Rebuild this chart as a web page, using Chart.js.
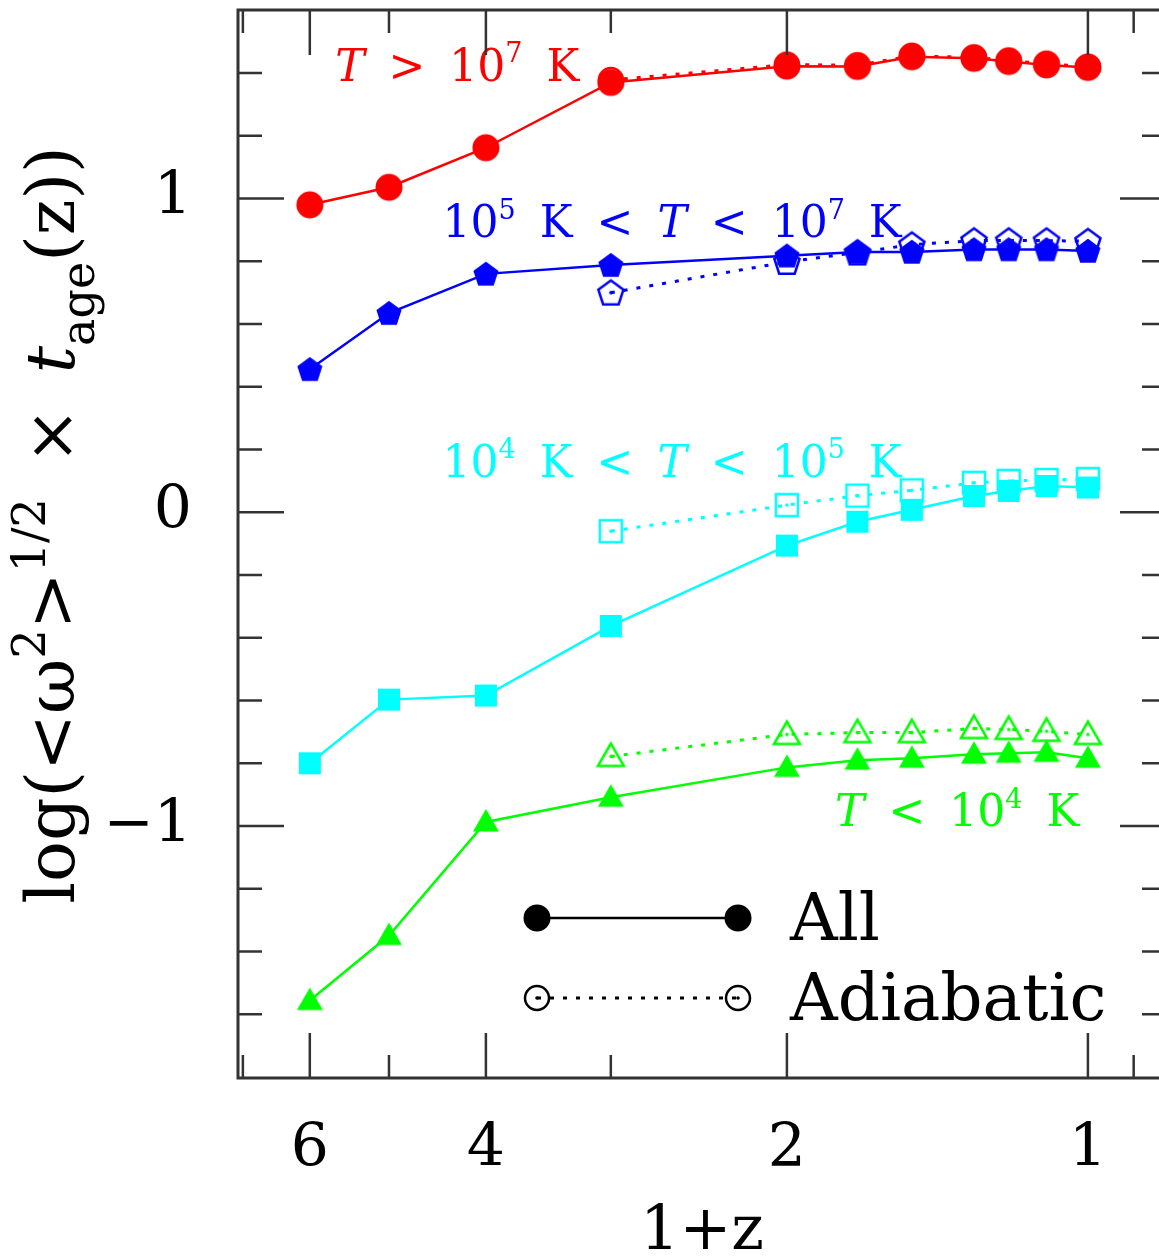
<!DOCTYPE html>
<html>
<head>
<meta charset="utf-8">
<script src="https://cdn.jsdelivr.net/npm/chart.js@4.4.1/dist/chart.umd.min.js"></script>
<style>
  html, body { margin: 0; padding: 0; overflow: hidden; background: #fff; }
  #wrap { position: relative; width: 1159px; height: 1256px; }
</style>
</head>
<body>
<div id="wrap"><canvas id="chart"></canvas></div>
<script>
// 1+z values of the outputs
const zAll = [6, 5, 4, 3, 2, 1.7, 1.5, 1.3, 1.2, 1.1, 1.0];
const zAdi = [3, 2, 1.7, 1.5, 1.3, 1.2, 1.1, 1.0];

// log(<w^2>^1/2 x t_age)
const hotAll  = [0.980, 1.036, 1.162, 1.370, 1.422, 1.421, 1.452, 1.447, 1.437, 1.426, 1.418];
const hotAdi  = [1.378, 1.427, 1.425, 1.455, 1.450, 1.440, 1.430, 1.420];
const whimAll = [0.456, 0.635, 0.760, 0.788, 0.818, 0.830, 0.830, 0.838, 0.838, 0.838, 0.833];
const whimAdi = [0.700, 0.798, 0.828, 0.853, 0.866, 0.866, 0.866, 0.864];
const warmAll = [-0.800, -0.597, -0.584, -0.362, -0.106, -0.030, 0.008, 0.052, 0.068, 0.084, 0.079];
const warmAdi = [-0.060, 0.023, 0.053, 0.070, 0.094, 0.100, 0.103, 0.106];
const coldAll = [-1.556, -1.349, -0.987, -0.908, -0.813, -0.790, -0.784, -0.771, -0.768, -0.765, -0.784];
const coldAdi = [-0.778, -0.708, -0.702, -0.702, -0.689, -0.692, -0.698, -0.708];

const xLabelTicks = [6, 4, 2, 1];
const xMinorTicks = [7, 5, 3, 0.9];
const yLabelTicks = [-1, 0, 1];

const FONT = '"DejaVu Serif", "Liberation Serif", serif';
const RED = '#ff0000', BLUE = '#0000ff', CYAN = '#00ffff', GREEN = '#00ff00';

// marker sprites (chart.js has no pentagon, so all are drawn the same way)
const marker = (shape, color, filled) => {
  const s = 36;
  const c = document.createElement('canvas');
  c.width = s; c.height = s;
  const g = c.getContext('2d');
  g.translate(s / 2, s / 2);
  g.beginPath();
  if (shape === 'circle') {
    g.arc(0, 0, filled ? 13.5 : 12, 0, Math.PI * 2);
  } else if (shape === 'pentagon') {
    for (let i = 0; i < 5; i++) {
      const a = -Math.PI / 2 + i * 2 * Math.PI / 5;
      g.lineTo(13.2 * Math.cos(a), 13.2 * Math.sin(a) + 1);
    }
  } else if (shape === 'square') {
    g.rect(-11, -11, 22, 22);
  } else if (shape === 'triangle') {
    for (let i = 0; i < 3; i++) {
      const a = -Math.PI / 2 + i * 2 * Math.PI / 3;
      g.lineTo(15 * Math.cos(a), 15 * Math.sin(a) + 2);
    }
  }
  g.closePath();
  if (filled) {
    g.fillStyle = color;
    g.fill();
  } else {
    g.strokeStyle = color;
    g.lineWidth = 2.5;
    g.stroke();
    g.beginPath();
    g.arc(0, 0, 1.8, 0, Math.PI * 2);
    g.fillStyle = color;
    g.fill();
  }
  return c;
};

const pts = (xs, ys) => xs.map((x, i) => ({ x, y: ys[i] }));

const series = (data, color, shape, adiabatic) => ({
  data,
  borderColor: color,
  borderWidth: adiabatic ? 3 : 2.5,
  borderDash: adiabatic ? [4, 9] : [],
  pointStyle: marker(shape, color, !adiabatic),
  pointRadius: 12,
  pointHoverRadius: 12,
  tension: 0,
  fill: false,
  order: adiabatic ? 1 : 0
});

// rich text with italics, super- and subscripts
const drawRich = (ctx, parts, x, y, size, color, align, small = 0.62) => {
  const fontFor = p => `${p.it ? 'italic ' : ''}${(p.sup || p.sub) ? Math.round(size * small) : size}px ${FONT}`;
  let w = 0;
  parts.forEach(p => {
    ctx.font = fontFor(p);
    p.w = ctx.measureText(p.t).width;
    w += p.w + (p.gap || 0);
  });
  let cx = align === 'center' ? x - w / 2 : x;
  ctx.fillStyle = color;
  ctx.textBaseline = 'alphabetic';
  ctx.textAlign = 'left';
  parts.forEach(p => {
    cx += p.gap || 0;
    ctx.font = fontFor(p);
    const dy = p.sup ? -size * 0.42 : p.sub ? size * 0.3 : 0;
    ctx.fillText(p.t, cx, y + dy);
    cx += p.w;
  });
};

const G = 24;
const notes = [
  { z: 5.66, v: 1.375, color: RED,
    parts: [{ t: 'T', it: 1 }, { t: '>', gap: G }, { t: '10', gap: G }, { t: '7', sup: 1 }, { t: 'K', gap: G }] },
  { z: 4.42, v: 0.876, color: BLUE,
    parts: [{ t: '10' }, { t: '5', sup: 1 }, { t: 'K', gap: G }, { t: '<', gap: G }, { t: 'T', it: 1, gap: G },
            { t: '<', gap: G }, { t: '10', gap: G }, { t: '7', sup: 1 }, { t: 'K', gap: G }] },
  { z: 4.42, v: 0.114, color: CYAN,
    parts: [{ t: '10' }, { t: '4', sup: 1 }, { t: 'K', gap: G }, { t: '<', gap: G }, { t: 'T', it: 1, gap: G },
            { t: '<', gap: G }, { t: '10', gap: G }, { t: '5', sup: 1 }, { t: 'K', gap: G }] },
  { z: 1.79, v: -1.0, color: GREEN,
    parts: [{ t: 'T', it: 1 }, { t: '<', gap: G }, { t: '10', gap: G }, { t: '4', sup: 1 }, { t: 'K', gap: G }] }
];

const legendRows = [
  { label: 'All', dash: [], sprite: marker('circle', '#000', true), dy: 0 },
  { label: 'Adiabatic', dash: [4, 9], sprite: marker('circle', '#000', false), dy: 80 }
];

const decorations = {
  id: 'decorations',
  afterDraw(chart) {
    const { ctx, chartArea: a, scales: { x, y } } = chart;
    ctx.save();

    notes.forEach(n => drawRich(ctx, n.parts, x.getPixelForValue(n.z), y.getPixelForValue(n.v), 44, n.color, 'left'));

    // legend
    legendRows.forEach(r => {
      const ly = a.top + 908 + r.dy, x1 = a.left + 299, x2 = a.left + 500;
      ctx.beginPath();
      ctx.setLineDash(r.dash);
      ctx.strokeStyle = '#000';
      ctx.lineWidth = r.dash.length ? 3 : 2.5;
      ctx.moveTo(x1, ly); ctx.lineTo(x2, ly);
      ctx.stroke();
      ctx.setLineDash([]);
      [x1, x2].forEach(px => ctx.drawImage(r.sprite, px - r.sprite.width / 2, ly - r.sprite.height / 2));
      drawRich(ctx, [{ t: r.label }], a.left + 552, ly + 22, 66, '#000', 'left');
    });

    // ticks and frame (right edge of the box falls outside the picture)
    ctx.strokeStyle = '#333';
    ctx.lineWidth = 2.5;
    ctx.beginPath();
    xLabelTicks.map(v => [v, 45]).concat(xMinorTicks.map(v => [v, 23])).forEach(([v, len]) => {
      const px = x.getPixelForValue(v);
      ctx.moveTo(px, a.top); ctx.lineTo(px, a.top + len);
      ctx.moveTo(px, a.bottom); ctx.lineTo(px, a.bottom - len);
    });
    for (let k = -8; k <= 7; k++) {
      const py = y.getPixelForValue(k / 5);
      const len = k % 5 === 0 ? 46 : 24;
      ctx.moveTo(a.left, py); ctx.lineTo(a.left + len, py);
      ctx.moveTo(a.right, py); ctx.lineTo(a.right - len + 7, py);
    }
    ctx.stroke();
    ctx.lineWidth = 3;
    ctx.beginPath();
    ctx.moveTo(a.right, a.top);
    ctx.lineTo(a.left, a.top);
    ctx.lineTo(a.left, a.bottom);
    ctx.lineTo(a.right, a.bottom);
    ctx.stroke();

    // axis titles
    drawRich(ctx, [{ t: '1+z' }], 702, 1249, 62, '#000', 'center');
    ctx.translate(74, 525);
    ctx.rotate(-Math.PI / 2);
    drawRich(ctx, [
      { t: 'log(<ω' }, { t: '2', sup: 1 }, { t: '>' }, { t: '1/2', sup: 1 },
      { t: '×', gap: 34 }, { t: 't', it: 1, gap: 34 }, { t: 'age', sub: 1 }, { t: '(z))' }
    ], 0, 0, 68, '#000', 'center', 0.68);
    ctx.restore();
  }
};

new Chart(document.getElementById('chart'), {
  type: 'line',
  data: {
    datasets: [
      series(pts(zAll, hotAll), RED, 'circle', false),
      series(pts(zAdi, hotAdi), RED, 'circle', true),
      series(pts(zAll, whimAll), BLUE, 'pentagon', false),
      series(pts(zAdi, whimAdi), BLUE, 'pentagon', true),
      series(pts(zAll, warmAll), CYAN, 'square', false),
      series(pts(zAdi, warmAdi), CYAN, 'square', true),
      series(pts(zAll, coldAll), GREEN, 'triangle', false),
      series(pts(zAdi, coldAdi), GREEN, 'triangle', true)
    ]
  },
  options: {
    responsive: true,
    maintainAspectRatio: false,
    animation: false,
    devicePixelRatio: 1,
    layout: { autoPadding: false, padding: { top: 10, right: 0, left: 0, bottom: 0 } },
    plugins: { legend: { display: false }, tooltip: { enabled: false } },
    scales: {
      x: {
        type: 'logarithmic',
        reverse: true,
        min: 0.849,
        max: 7.079,
        grid: { display: false, drawTicks: false },
        border: { display: false },
        afterFit: s => { s.height = 178; s.paddingLeft = 0; s.paddingRight = 0; },
        afterBuildTicks: s => { s.ticks = xLabelTicks.map(value => ({ value })); },
        ticks: {
          autoSkip: false, maxRotation: 0, padding: 36, color: '#000',
          font: { family: FONT, size: 60 },
          callback: v => String(v)
        }
      },
      y: {
        min: -1.803,
        max: 1.601,
        grid: { display: false, drawTicks: false },
        border: { display: false },
        afterFit: s => { s.width = 238; s.paddingTop = 0; s.paddingBottom = 0; },
        afterBuildTicks: s => { s.ticks = yLabelTicks.map(value => ({ value })); },
        ticks: {
          autoSkip: false, padding: 46, color: '#000',
          font: { family: FONT, size: 60 },
          callback: v => v < 0 ? '−' + Math.abs(v) : String(v)
        }
      }
    }
  },
  plugins: [decorations]
});
</script>
</body>
</html>
